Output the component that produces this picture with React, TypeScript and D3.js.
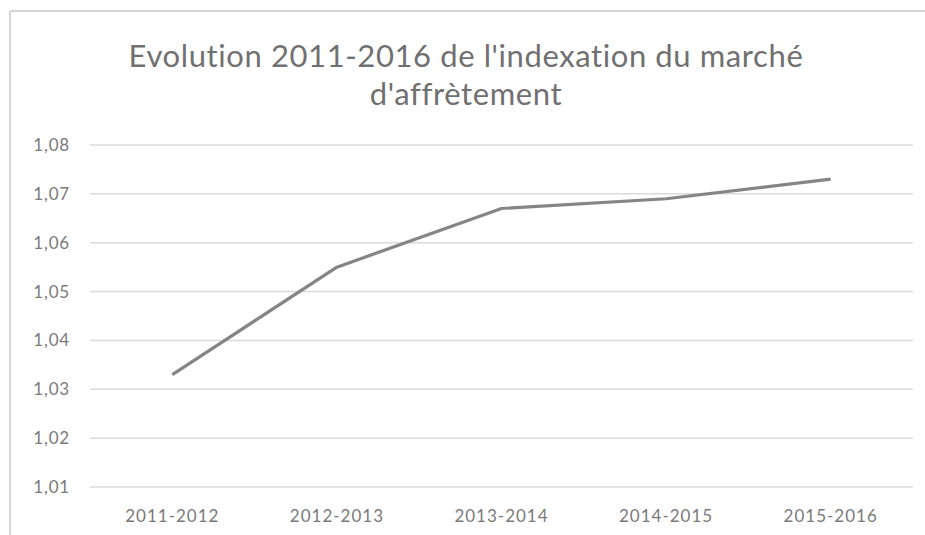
import { useRef, useEffect } from 'react';
import * as d3 from 'd3';

// Indexation du marché d'affrètement, 2011-2016
const periods = ['2011-2012', '2012-2013', '2013-2014', '2014-2015', '2015-2016'];
const indexValues = [1.033, 1.055, 1.067, 1.069, 1.073];
const yTicks = [1.01, 1.02, 1.03, 1.04, 1.05, 1.06, 1.07, 1.08];
const titleLines = ["Evolution 2011-2016 de l'indexation du marché", "d'affrètement"];

const W = 925;
const H = 535;

export default function App() {
  const svgRef = useRef<SVGSVGElement>(null);

  useEffect(() => {
    if (!svgRef.current) return;
    const svg = d3.select(svgRef.current);
    svg.selectAll('*').remove();

    const font = 'Lato, "Open Sans", sans-serif';
    const textColor = '#7a7a7a';

    // chart frame (scan shows only top and left edges)
    svg.append('rect').attr('width', W).attr('height', H).attr('fill', '#fff');
    svg.append('line')
      .attr('x1', 10).attr('x2', W).attr('y1', 11).attr('y2', 11)
      .attr('stroke', '#c8c8c8').attr('stroke-width', 1.5);
    svg.append('line')
      .attr('x1', 10).attr('x2', 10).attr('y1', 11).attr('y2', H)
      .attr('stroke', '#c8c8c8').attr('stroke-width', 1.5);

    // title
    svg.append('g')
      .selectAll('text')
      .data(titleLines)
      .join('text')
      .attr('x', 466)
      .attr('y', (_, i) => 67 + i * 38)
      .attr('text-anchor', 'middle')
      .attr('font-family', font)
      .attr('font-size', '31px')
      .attr('letter-spacing', '0.6px')
      .attr('fill', '#707070')
      .text((d) => d);

    const margin = { top: 145, right: 12, bottom: 48, left: 90 };
    const innerW = W - margin.left - margin.right;

    const x = d3.scaleBand<string>().domain(periods).range([margin.left, margin.left + innerW]);
    const y = d3.scaleLinear().domain([1.01, 1.08]).range([487, 145]);

    // gridlines
    svg.append('g')
      .selectAll('line')
      .data(yTicks)
      .join('line')
      .attr('x1', margin.left)
      .attr('x2', margin.left + innerW)
      .attr('y1', (d) => y(d))
      .attr('y2', (d) => y(d))
      .attr('stroke', '#dadada')
      .attr('stroke-width', 1.5);

    // y labels
    svg.append('g')
      .selectAll('text')
      .data(yTicks)
      .join('text')
      .attr('x', 70)
      .attr('y', (d) => y(d))
      .attr('dy', '0.35em')
      .attr('text-anchor', 'end')
      .attr('font-family', font)
      .attr('font-size', '17px')
      .attr('letter-spacing', '0.8px')
      .attr('fill', textColor)
      .text((d) => d.toFixed(2).replace('.', ','));

    // x labels
    svg.append('g')
      .selectAll('text')
      .data(periods)
      .join('text')
      .attr('x', (d) => (x(d) ?? 0) + x.bandwidth() / 2)
      .attr('y', 522)
      .attr('text-anchor', 'middle')
      .attr('font-family', font)
      .attr('font-size', '17px')
      .attr('letter-spacing', '1px')
      .attr('fill', textColor)
      .text((d) => d);

    // series line
    const line = d3.line<number>()
      .x((_, i) => (x(periods[i]) ?? 0) + x.bandwidth() / 2)
      .y((d) => y(d));

    svg.append('path')
      .datum(indexValues)
      .attr('d', line)
      .attr('fill', 'none')
      .attr('stroke', '#858585')
      .attr('stroke-width', 3.2)
      .attr('stroke-linejoin', 'round');
  }, []);

  return (
    <svg
      ref={svgRef}
      width={W}
      height={H}
      style={{ display: 'block', position: 'absolute', left: 0, top: 0 }}
      role="img"
      aria-label="Evolution 2011-2016 de l'indexation du marché d'affrètement"
    />
  );
}
